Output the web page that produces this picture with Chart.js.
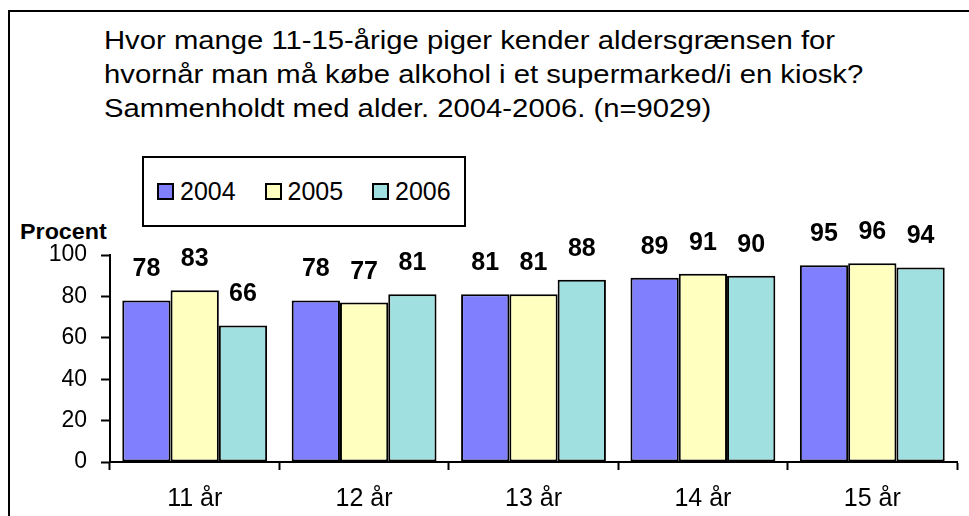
<!DOCTYPE html>
<html>
<head>
<meta charset="utf-8">
<script src="https://cdn.jsdelivr.net/npm/chart.js@4.4.1/dist/chart.umd.min.js"></script>
<style>
  html, body { margin: 0; padding: 0; background: #fff; }
  body { width: 969px; height: 516px; position: relative; overflow: hidden;
         font-family: 'Liberation Sans', Arial, sans-serif; color: #000; }
  #frame { position: absolute; left: 8px; top: 10px; width: 980px; height: 540px;
           border-left: 2px solid #000; border-top: 2px solid #000; }
  #title { position: absolute; left: 104px; top: 23px; font-size: 26px; line-height: 34px;
           white-space: nowrap; transform: scaleX(1.125); transform-origin: 0 0; }
  #legend { position: absolute; left: 142px; top: 156px; width: 324px; height: 71px;
            border: 2px solid #000; box-sizing: border-box; }
  .item { position: absolute; top: 0; height: 67px; display: flex; align-items: center; font-size: 25px; }
  .swatch { width: 17px; height: 17px; border: 2px solid #000; box-sizing: border-box; margin-right: 6px; }
  #ylab { position: absolute; left: 20px; top: 219px; font-size: 22px; font-weight: bold;
          transform: scaleX(1.06); transform-origin: 0 0; }
  #wrap { position: absolute; left: 0; top: 0; width: 969px; height: 516px; }
</style>
</head>
<body>
<div id="frame"></div>
<div id="title"></div>
<div id="legend"></div>
<div id="ylab">Procent</div>
<div id="wrap"><canvas id="chart"></canvas></div>
<script>
// ── Data ──
const TITLE_LINES = [
  'Hvor mange 11-15-årige piger kender aldersgrænsen for',
  'hvornår man må købe alkohol i et supermarked/i en kiosk?',
  'Sammenholdt med alder. 2004-2006. (n=9029)'
];
const categories = ['11 år', '12 år', '13 år', '14 år', '15 år'];
const years = ['2004', '2005', '2006'];
const values2004 = [78, 78, 81, 89, 95];
const values2005 = [83, 77, 81, 91, 96];
const values2006 = [66, 81, 88, 90, 94];
const yTicks = [0, 20, 40, 60, 80, 100];

const COLORS = ['#8080FF', '#FFFFC0', '#A0E0E0'];

// ── Title & legend (HTML text) ──
document.getElementById('title').innerHTML = TITLE_LINES.join('<br>');
const legend = document.getElementById('legend');
years.forEach((y, i) => {
  const el = document.createElement('div');
  el.className = 'item';
  el.style.left = (13 + i * 107.5) + 'px';
  el.innerHTML = `<div class="swatch" style="background:${COLORS[i]}"></div><span>${y}</span>`;
  legend.appendChild(el);
});

// ── Value labels above bars ──
const valueLabels = {
  id: 'valueLabels',
  afterDatasetsDraw(chart) {
    const ctx = chart.ctx;
    ctx.save();
    ctx.font = 'bold 25px "Liberation Sans", Arial, sans-serif';
    ctx.fillStyle = '#000';
    ctx.textAlign = 'center';
    ctx.textBaseline = 'middle';
    chart.data.datasets.forEach((ds, i) => {
      chart.getDatasetMeta(i).data.forEach((bar, j) => {
        ctx.fillText(String(ds.data[j]), bar.x, bar.y - 31);
      });
    });
    ctx.restore();
  }
};

Chart.defaults.font.family = "'Liberation Sans', Arial, sans-serif";
Chart.defaults.color = '#000';

new Chart(document.getElementById('chart'), {
  type: 'bar',
  data: {
    labels: categories,
    datasets: [values2004, values2005, values2006].map((d, i) => ({
      label: years[i],
      data: d,
      backgroundColor: COLORS[i],
      borderColor: '#000',
      borderWidth: 2,
      borderSkipped: false,
      categoryPercentage: 0.855,
      barPercentage: 1.0,
    }))
  },
  options: {
    responsive: true,
    maintainAspectRatio: false,
    animation: false,
    layout: { padding: { left: 0, right: 12, top: 255, bottom: 0 } },
    plugins: { legend: { display: false }, tooltip: { enabled: false } },
    scales: {
      x: {
        grid: { display: true, drawOnChartArea: false, drawTicks: true, tickLength: 8,
                color: '#000', tickColor: '#000', tickWidth: 2 },
        border: { color: '#000', width: 2 },
        ticks: { font: { size: 25 }, padding: 14, color: '#000' },
        afterFit: s => { s.height = 54; }
      },
      y: {
        min: 0, max: 100,
        afterBuildTicks: s => { s.ticks = yTicks.map(v => ({ value: v })); },
        grid: { display: true, drawOnChartArea: false, drawTicks: true, tickLength: 9,
                color: '#000', tickColor: '#000', tickWidth: 2 },
        border: { color: '#000', width: 2 },
        ticks: { font: { size: 23 }, padding: 14, color: '#000' },
        afterFit: s => { s.width = 110; }
      }
    }
  },
  plugins: [valueLabels]
});
</script>
</body>
</html>
